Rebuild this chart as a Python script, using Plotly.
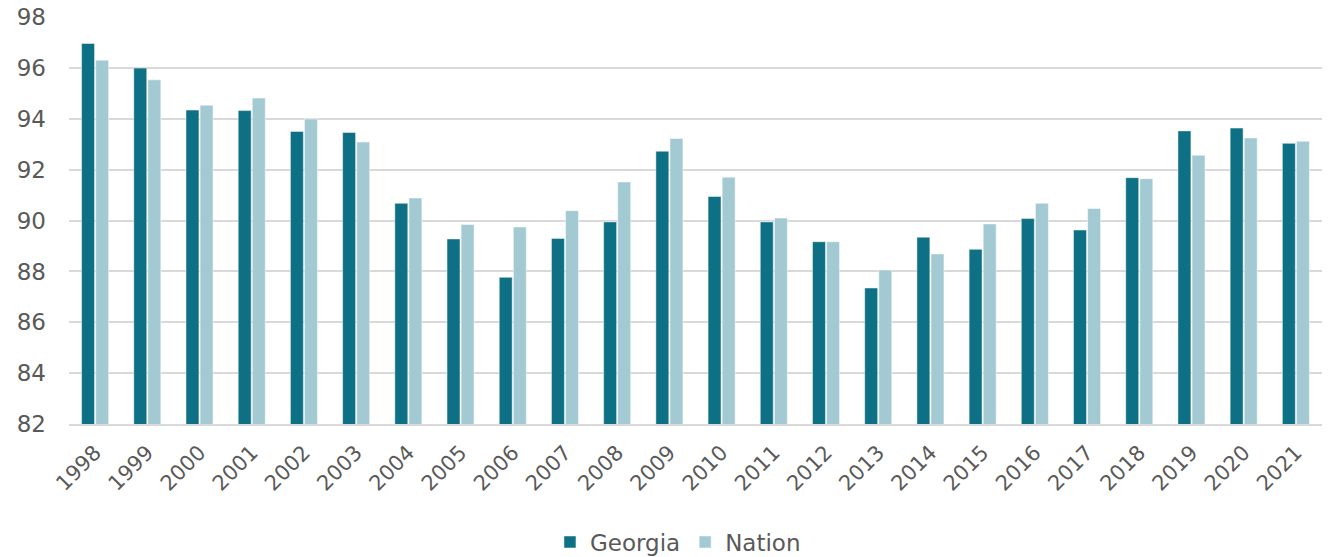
import plotly.graph_objects as go

years = [str(y) for y in range(1998, 2022)]
georgia = [96.97, 96.0, 94.35, 94.33, 93.51, 93.47, 90.68, 89.28, 87.77, 89.30,
           89.95, 92.73, 90.95, 89.95, 89.17, 87.35, 89.35, 88.87, 90.08, 89.63,
           91.69, 93.53, 93.64, 93.04]
nation = [96.31, 95.54, 94.54, 94.82, 94.0, 93.09, 90.89, 89.85, 89.75, 90.39,
          91.52, 93.23, 91.71, 90.10, 89.17, 88.06, 88.69, 89.87, 90.68, 90.48,
          91.65, 92.57, 93.25, 93.12]

fig = go.Figure()
fig.add_trace(go.Bar(x=years, y=georgia, name="Georgia",
                     marker=dict(color="#0E7085", line=dict(color="rgba(255,255,255,0.6)", width=0.8))))
fig.add_trace(go.Bar(x=years, y=nation, name="Nation",
                     marker=dict(color="#A3CAD3", line=dict(color="rgba(255,255,255,0.6)", width=0.8))))

fig.update_layout(
    width=1332, height=557,
    margin=dict(l=69, r=10, t=17, b=133, autoexpand=False),
    paper_bgcolor="white", plot_bgcolor="white",
    barmode="group", bargap=0.46, bargroupgap=0.08,
    font=dict(family="DejaVu Sans, sans-serif", color="#595959", size=18),
    showlegend=True,
    legend=dict(orientation="h", x=0.486, xanchor="center", y=-0.29, yanchor="middle",
                font=dict(size=23, color="#595959"), itemwidth=30,
                traceorder="normal"),
)
fig.update_yaxes(range=[82, 98.01], tick0=82, dtick=2, showgrid=True, gridcolor="#D9D9D9", gridwidth=2,
                 zeroline=False, showline=False, ticks="", ticklabelstandoff=22,
                 ticklabeloverflow="allow",
                 automargin=False, tickfont=dict(size=23, color="#595959"))
fig.update_xaxes(showline=True, linecolor="#D9D9D9", linewidth=2, ticks="",
                 automargin=False, tickangle=-45, ticklabelstandoff=6,
                 tickfont=dict(size=21, color="#595959"))

fig.write_html("out.html", config={"displayModeBar": False},
               post_script="document.body.style.margin='0';")
